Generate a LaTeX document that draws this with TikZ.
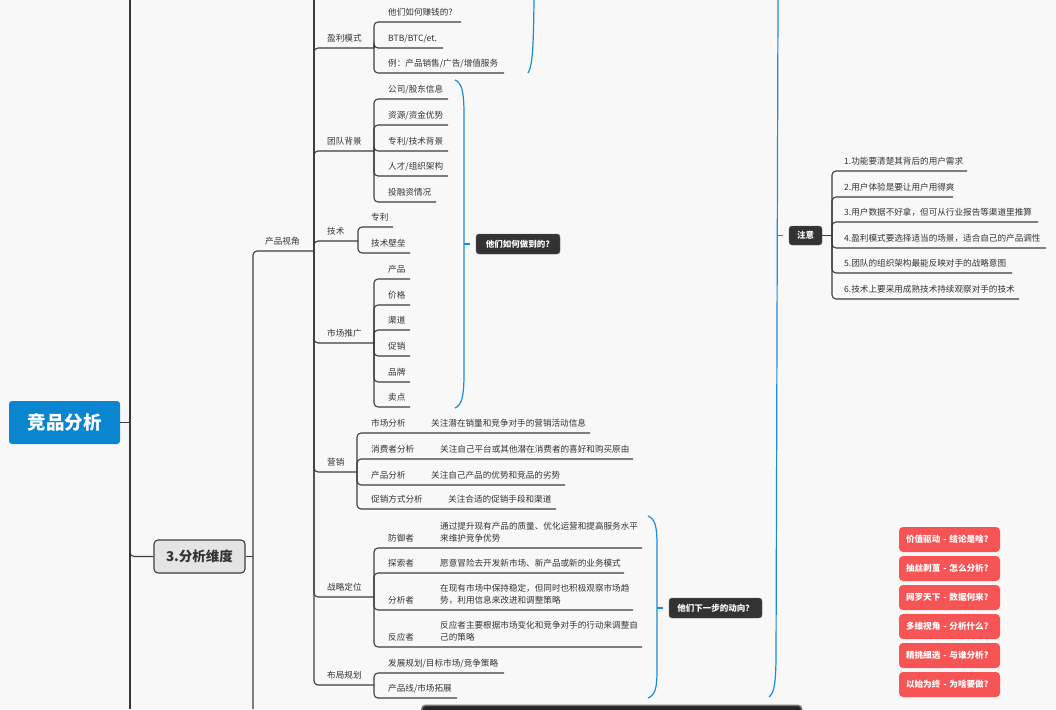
\documentclass[tikz,border=0pt]{standalone}
\usepackage{fontspec}
\setmainfont{Noto Sans CJK SC}
\definecolor{bgc}{HTML}{F8F8F8}
\definecolor{lnc}{HTML}{3D3D3D}
\definecolor{txc}{HTML}{333333}
\definecolor{rootc}{HTML}{0A86D0}
\definecolor{bracec}{HTML}{1A8CDA}
\definecolor{redc}{HTML}{F75555}
\definecolor{darkc}{HTML}{333333}
\definecolor{dimc}{HTML}{E4E4E4}
\newcommand\mtopic[5]{\node[tx] (#1) at (#2,#3-6.5) {#5};\coordinate (#1-e) at (#4,#3);}
\begin{document}
\begin{tikzpicture}[x=1pt,y=-1pt,
  conn/.style={draw=lnc,line width=1.1pt,rounded corners=4pt},
  mainln/.style={draw=lnc!90!black,line width=2pt},
  tx/.style={font=\fontsize{8.6}{10}\selectfont,text=txc,inner sep=0pt,anchor=base west},
  bracel/.style={draw=bracec,line width=1.2pt},
  summ/.style={fill=darkc,draw=darkc!80!white,rounded corners=3pt,text=white,font=\fontsize{8.5}{10}\selectfont\bfseries,minimum height=20pt,inner sep=0pt},
  redbox/.style={fill=redc,rounded corners=4pt,text=white,font=\fontsize{8.6}{10}\selectfont\bfseries,text width=87pt,align=left,inner xsep=7pt,inner ysep=0pt,minimum height=25pt},
]
\fill[bgc] (0,0) rectangle (1056,709);
\useasboundingbox (0,0) rectangle (1056,709);

% main trunk
\coordinate (mtop) at (130,0);
\coordinate (mbot) at (130,709);
\node[fill=rootc,rounded corners=3pt,minimum width=111pt,minimum height=43pt,text=white,font=\fontsize{18.5}{20}\selectfont\bfseries,inner sep=0pt] (root) at (64.5,422.5) {竞品分析};
\node[fill=dimc,draw=lnc,line width=1.1pt,rounded corners=4pt,minimum width=91pt,minimum height=33pt,font=\fontsize{13.5}{15}\selectfont\bfseries,text=txc,inner sep=0pt] (dim) at (199.5,556.5) {3.分析维度};
\draw[mainln] (mtop) -- (mbot);
\draw[conn] (root.east) -- (root.east -| mtop);
\draw[conn] (root.east -| mtop) |- (dim.west);

% level: 3.分析维度 children
\coordinate (v1bot) at (253,709);
\draw[conn] (dim.east) -- (dim.east -| v1bot);
\mtopic{cpsj}{265}{251}{314}{产品视角}
\draw[conn] (v1bot) |- (cpsj-e);
\coordinate (v2top) at (314,0);
\draw[conn] (cpsj-e) -- (v2top);

% 产品视角 children
\mtopic{ylms}{327}{48}{374}{盈利模式}
\mtopic{tdbj}{327}{151}{374}{团队背景}
\mtopic{js}{327}{241}{358}{技术}
\mtopic{sctg}{327}{343}{374}{市场推广}
\mtopic{yx}{327}{472}{357}{营销}
\mtopic{zldw}{327}{597}{374}{战略定位}
\mtopic{bjgh}{327}{685}{374}{布局规划}
\foreach \c in {ylms,tdbj,js,sctg,yx,zldw,bjgh} {\draw[conn] (cpsj-e) |- (\c-e);}

% 盈利模式
\mtopic{ylA}{388}{22}{461}{他们如何赚钱的？}
\mtopic{ylB}{388}{48}{443}{BTB/BTC/et.}
\mtopic{ylC}{388}{73}{504}{例：产品销售/广告/增值服务}
\foreach \c in {ylA,ylB,ylC} {\draw[conn] (ylms-e) |- (\c-e);}

% 团队背景
\mtopic{tdA}{388}{99}{448}{公司/股东信息}
\mtopic{tdB}{388}{125}{448}{资源/资金优势}
\mtopic{tdC}{388}{151}{448}{专利/技术背景}
\mtopic{tdD}{388}{176}{448}{人才/组织架构}
\mtopic{tdE}{388}{202}{436}{投融资情况}
\foreach \c in {tdA,tdB,tdC,tdD,tdE} {\draw[conn] (tdbj-e) |- (\c-e);}

% 技术
\mtopic{jsA}{371}{227}{393}{专利}
\mtopic{jsB}{371}{253}{410}{技术壁垒}
\foreach \c in {jsA,jsB} {\draw[conn] (js-e) |- (\c-e);}

% 市场推广
\mtopic{scA}{388}{279}{410}{产品}
\mtopic{scB}{388}{305}{410}{价格}
\mtopic{scC}{388}{330}{410}{渠道}
\mtopic{scD}{388}{356}{410}{促销}
\mtopic{scE}{388}{382}{410}{品牌}
\mtopic{scF}{388}{407}{410}{卖点}
\foreach \c in {scA,scB,scC,scD,scE,scF} {\draw[conn] (sctg-e) |- (\c-e);}

% 营销
\mtopic{yxA}{371}{433}{590}{市场分析}
\mtopic{yxB}{371}{459}{633}{消费者分析}
\mtopic{yxC}{371}{485}{565}{产品分析}
\mtopic{yxD}{371}{509}{556}{促销方式分析}
\foreach \c in {yxA,yxB,yxC,yxD} {\draw[conn] (yx-e) |- (\c-e);}
\node[tx] (yxAd) at (431,433-6.5) {关注潜在销量和竞争对手的营销活动信息};
\node[tx] (yxBd) at (440,459-6.5) {关注自己平台或其他潜在消费者的喜好和购买原由};
\node[tx] (yxCd) at (431,485-6.5) {关注自己产品的优势和竞品的劣势};
\node[tx] (yxDd) at (448,509-6.5) {关注合适的促销手段和渠道};

% 战略定位
\mtopic{zlA}{388}{548}{642}{防御者}
\mtopic{zlB}{388}{573}{624}{探索者}
\mtopic{zlC}{388}{610}{633}{分析者}
\mtopic{zlD}{388}{647}{642}{反应者}
\foreach \c in {zlA,zlB,zlC,zlD} {\draw[conn] (zldw-e) |- (\c-e);}
\node[tx] (zlAd1) at (440,536-6.5) {通过提升现有产品的质量、优化运营和提高服务水平};
\node[tx] (zlAd2) at (440,548-6.5) {来维护竞争优势};
\node[tx] (zlBd) at (440,573-6.5) {愿意冒险去开发新市场、新产品或新的业务模式};
\node[tx] (zlCd1) at (440,598-6.5) {在现有市场中保持稳定，但同时也积极观察市场趋};
\node[tx] (zlCd2) at (440,610-6.5) {势，利用信息来改进和调整策略};
\node[tx] (zlDd1) at (440,635-6.5) {反应者主要根据市场变化和竞争对手的行动来调整自};
\node[tx] (zlDd2) at (440,647-6.5) {己的策略};

% 布局规划
\mtopic{bjA}{388}{673}{504}{发展规划/目标市场/竞争策略}
\mtopic{bjB}{388}{698}{457}{产品线/市场拓展}
\foreach \c in {bjA,bjB} {\draw[conn] (bjgh-e) |- (\c-e);}

% summaries and braces
\node[summ,minimum width=84pt] (hrdd) at (518,244) {他们如何做到的?};
\node[summ,minimum width=93pt] (xyb) at (715.5,608) {他们下一步的动向？};
\node[summ,minimum width=33pt,minimum height=19pt] (zy) at (805.5,235.5) {注意};

\draw[bracel] (534,0) .. controls (533.5,40) and (533,66) .. (528,73);
\draw[bracel] (455,80) .. controls (462,83) and (464,92) .. (464,115) -- (464,373) .. controls (464,396) and (462,405) .. (455,408);
\draw[bracel] (464,244) -- ([xshift=-6pt]hrdd.west);
\draw[bracel] (648,516) .. controls (655,519) and (657,526) .. (657,545) -- (657,670) .. controls (657,689) and (655,695) .. (648,698);
\draw[bracel] (657,608) -- ([xshift=-6pt]xyb.west);
\draw[bracel] (778,0) -- (776,660) .. controls (775.5,685) and (774,693) .. (769,697);
\draw[bracel] (777.4,235.5) -- ([xshift=-6pt]zy.west);

% 注意 children
\coordinate (zyj) at (832,235.5);
\draw[conn] (zy.east) -- (zyj);
\mtopic{zyA}{844}{171}{967}{1.功能要清楚其背后的用户需求}
\mtopic{zyB}{844}{197}{953}{2.用户体验是要让用户用得爽}
\mtopic{zyC}{844}{222}{1038}{3.用户数据不好拿，但可从行业报告等渠道里推算}
\mtopic{zyD}{844}{248}{1046}{4.盈利模式要选择适当的场景，适合自己的产品调性}
\mtopic{zyE}{844}{273}{1012}{5.团队的组织架构最能反映对手的战略意图}
\mtopic{zyF}{844}{299}{1019}{6.技术上要采用成熟技术持续观察对手的技术}
\foreach \c in {zyA,zyB,zyC,zyD,zyE,zyF} {\draw[conn] (zyj) |- (\c-e);}

% red tags
\node[redbox] (r1) at (949.5,539.5) {价值驱动 - 结论是啥?};
\node[redbox] (r2) at (949.5,568.5) {抽丝剥茧 - 怎么分析?};
\node[redbox] (r3) at (949.5,597.5) {网罗天下 - 数据何来?};
\node[redbox] (r4) at (949.5,626.5) {多维视角 - 分析什么?};
\node[redbox] (r5) at (949.5,655.5) {精挑细选 - 与谁分析?};
\node[redbox] (r6) at (949.5,684.5) {以始为终 - 为啥要做?};

% dark node cut off at the bottom
\node[fill=black!85,draw=lnc!70,line width=1.5pt,rounded corners=4pt,anchor=north west,minimum width=380pt,minimum height=20pt,inner sep=0pt] (botbar) at (421,704.5) {};
\end{tikzpicture}
\end{document}
